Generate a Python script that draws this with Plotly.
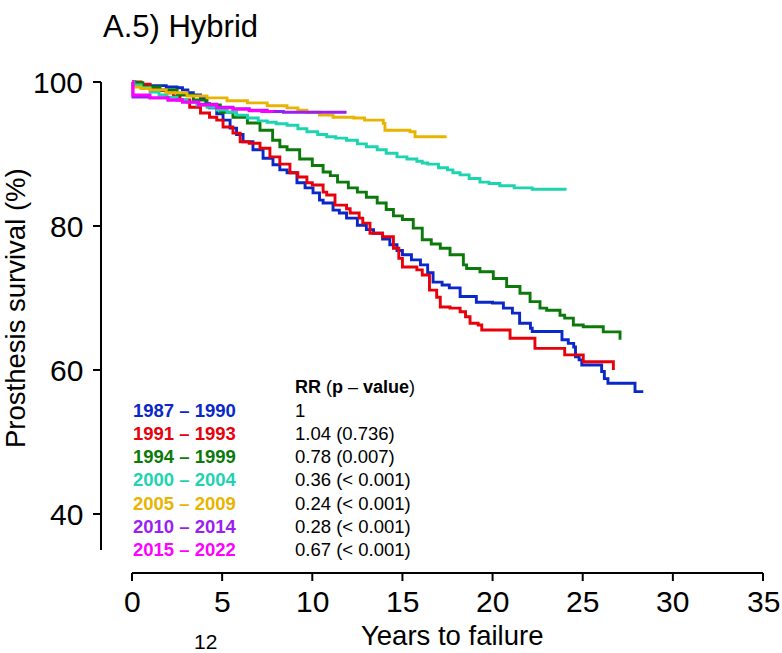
import plotly.graph_objects as go

# ---------------- data ----------------
cohorts = ["1987 – 1990", "1991 – 1993", "1994 – 1999", "2000 – 2004",
           "2005 – 2009", "2010 – 2014", "2015 – 2022"]
rr_text = ["1", "1.04 (0.736)", "0.78 (0.007)", "0.36 (< 0.001)",
           "0.24 (< 0.001)", "0.28 (< 0.001)", "0.67 (< 0.001)"]
colors = ["#0A27C8", "#E8000B", "#0B7A0B", "#1DD3B0", "#E8B400", "#9B1EF2", "#FF00FF"]

t_1987 = [0, 0.1, 1.0, 1.9, 2.5, 2.8, 3.1, 3.4, 3.8, 4.1, 4.3, 4.7, 5.05, 5.44, 5.8, 6.16, 6.71,
          7.27, 7.82, 8.2, 8.6, 9.15, 9.6, 10.04, 10.4, 10.6, 11.15, 11.5, 11.9, 12.5, 13.0,
          13.4, 13.9, 14.3, 14.7, 15.0, 15.5, 16.0, 16.4, 16.7, 17.2, 17.6, 18.2, 19.1, 20.0,
          20.6, 21.1, 21.5, 22.1, 22.2, 23.85, 24.2, 24.5, 24.6, 24.8, 24.95, 26.05, 26.2,
          26.4, 27.9, 28.36]
s_1987 = [100, 99.6, 99.5, 99.3, 99.2, 98.9, 98.5, 98.2, 97.8, 97.0, 96.4, 95.6, 94.7, 93.6,
          92.7, 91.7, 90.6, 89.4, 88.5, 87.8, 87.4, 86.0, 85.3, 84.6, 83.6, 83.2, 82.2, 81.8,
          81.1, 80.1, 79.5, 79.0, 78.2, 77.4, 76.6, 76.0, 75.3, 74.6, 73.5, 72.2, 71.8, 71.4,
          70.2, 69.4, 69.3, 68.6, 67.9, 66.5, 65.8, 65.35, 64.2, 63.7, 63.2, 61.85, 61.4,
          60.7, 59.8, 58.8, 58.15, 57.0, 57.0]

t_1991 = [0, 0.5, 1.0, 1.5, 1.9, 2.3, 2.66, 3.2, 3.8, 4.3, 4.7, 5.05, 5.6, 6.0, 6.5, 7.1, 7.65,
          8.2, 8.76, 9.2, 9.7, 10.0, 10.6, 10.8, 11.26, 11.9, 12.1, 12.6, 12.8, 13.2, 13.9,
          14.5, 14.8, 15.0, 15.8, 16.1, 16.5, 16.9, 17.1, 17.64, 18.2, 18.5, 18.75, 19.2,
          19.4, 20.97, 22.35, 24.0, 25.03, 26.7]
s_1991 = [100, 99.7, 99.2, 98.8, 98.5, 98.0, 97.5, 96.5, 95.7, 95.1, 94.7, 93.75, 92.9, 91.7,
          91.5, 90.8, 89.6, 88.6, 87.4, 86.8, 86.0, 85.7, 84.7, 84.3, 82.9, 82.4, 81.8, 81.1,
          80.4, 79.0, 78.5, 76.9, 75.5, 74.3, 73.9, 73.2, 71.1, 70.1, 68.75, 68.6, 68.1,
          67.4, 66.5, 66.25, 65.55, 64.4, 63.0, 62.1, 61.15, 60.0]

t_1994 = [0, 0.17, 0.6, 1.55, 2.5, 3.4, 4.16, 4.9, 5.6, 6.4, 7.1, 7.8, 8.2, 8.6, 9.3, 10.0,
          10.6, 11.0, 11.4, 12.0, 12.5, 13.0, 13.6, 14.1, 14.5, 15.0, 15.6, 16.1, 16.6, 17.1,
          17.64, 18.38, 18.56, 19.3, 20.04, 20.78, 21.52, 22.08, 22.63, 23.0, 23.74, 24.0,
          24.48, 25.03, 26.14, 27.07]
s_1994 = [100, 99.9, 99.3, 98.9, 98.2, 97.5, 96.8, 95.8, 95.1, 94.3, 93.3, 91.9, 91.0, 90.6,
          89.3, 88.4, 87.5, 87.0, 86.1, 85.3, 84.7, 84.0, 83.2, 82.3, 81.4, 80.9, 79.7, 78.1,
          77.5, 76.9, 76.0, 74.6, 74.1, 73.65, 72.7, 71.6, 70.65, 69.5, 68.6, 68.3, 67.6,
          67.2, 66.25, 66.0, 65.3, 64.2]

t_2000 = [0, 0.1, 0.5, 1.0, 1.5, 1.94, 2.5, 3.05, 3.6, 4.16, 4.7, 5.27, 5.8, 6.4, 7.0, 7.5,
          8.0, 8.6, 9.2, 9.7, 10.3, 10.8, 11.3, 11.9, 12.5, 13.0, 13.6, 14.1, 14.7, 15.25,
          15.8, 16.1, 16.4, 17.0, 17.5, 17.8, 18.2, 18.7, 19.3, 19.8, 20.4, 21.2, 22.2, 24.1]
s_2000 = [100, 99.6, 99.2, 98.6, 98.2, 97.9, 97.5, 97.2, 96.8, 96.5, 96.1, 95.8, 95.4, 95.0,
          94.6, 94.4, 94.2, 94.0, 93.5, 93.1, 92.7, 92.4, 92.2, 91.9, 91.4, 91.0, 90.6, 90.1,
          89.6, 89.3, 89.0, 88.75, 88.6, 88.1, 87.8, 87.4, 87.1, 86.6, 86.1, 85.9, 85.6,
          85.3, 85.1, 85.1]

t_2005 = [0, 0.05, 0.5, 1.0, 1.9, 3.05, 4.16, 5.27, 6.4, 7.5, 8.6, 9.2, 9.7, 10.4, 11.15,
          12.3, 12.9, 13.94, 14.03, 15.42, 15.7, 17.45]
s_2005 = [100, 99.3, 99.1, 98.9, 98.5, 98.05, 97.8, 97.4, 97.1, 96.7, 96.4, 96.1, 95.8, 95.4,
          95.1, 95.0, 94.7, 94.26, 93.3, 93.1, 92.4, 92.4]

t_2010 = [0, 0.05, 1.0, 2.0, 2.8, 3.7, 4.7, 5.6, 6.5, 7.5, 8.4, 11.9]
s_2010 = [100, 97.9, 97.8, 97.5, 97.2, 96.9, 96.5, 96.3, 96.1, 95.9, 95.8, 95.8]

t_2015 = [0, 0.05, 1.0, 2.0, 2.8, 3.7, 4.7, 5.6, 6.5, 7.2, 7.8]
s_2015 = [100, 98.2, 97.8, 97.5, 97.2, 96.8, 96.4, 96.2, 96.0, 95.9, 95.8]

times = [t_1987, t_1991, t_1994, t_2000, t_2005, t_2010, t_2015]
survs = [s_1987, s_1991, s_1994, s_2000, s_2005, s_2010, s_2015]

x_ticks = [0, 5, 10, 15, 20, 25, 30, 35]
y_ticks = [40, 60, 80, 100]

# ---------------- layout geometry ----------------
W, H = 782, 653
XS = 631 / 35.0      # px per year
YS = 144 / 20.0      # px per % point
def xv(px):
    return (px - 132) / XS
def yv(py):
    return 100 - (py - 82) / YS

FONT = "Liberation Sans, Arial, Helvetica, sans-serif"

fig = go.Figure()
for name, t, s, c in zip(cohorts, times, survs, colors):
    fig.add_trace(go.Scatter(x=t, y=s, mode="lines", name=name,
                             line=dict(color=c, width=2.9, shape="hv"),
                             showlegend=False, hoverinfo="skip"))

shapes = []
ann = []
# x axis
x_line_y = yv(573)
shapes.append(dict(type="line", xref="x", yref="y", x0=x_ticks[0], x1=x_ticks[-1],
                   y0=x_line_y, y1=x_line_y, line=dict(color="black", width=2)))
for t in x_ticks:
    shapes.append(dict(type="line", xref="x", yref="y", x0=t, x1=t,
                       y0=x_line_y, y1=yv(581), line=dict(color="black", width=2)))
    ann.append(dict(x=t, y=yv(601), xref="x", yref="y", text=str(t), showarrow=False,
                    xanchor="center", yanchor="middle", borderpad=0,
                    font=dict(family=FONT, size=30, color="black")))
# y axis
y_line_x = xv(101)
shapes.append(dict(type="line", xref="x", yref="y", x0=y_line_x, x1=y_line_x,
                   y0=35, y1=100, line=dict(color="black", width=2)))
for v in y_ticks:
    shapes.append(dict(type="line", xref="x", yref="y", x0=y_line_x, x1=xv(93),
                       y0=v, y1=v, line=dict(color="black", width=2)))
    ann.append(dict(x=xv(84), y=v, xref="x", yref="y", text=str(v), showarrow=False,
                    xanchor="right", yanchor="middle", borderpad=0,
                    font=dict(family=FONT, size=30, color="black")))

# titles
ann.append(dict(x=xv(102), y=yv(26), xref="x", yref="y", text="A.5) Hybrid", showarrow=False,
                xanchor="left", yanchor="middle", borderpad=0,
                font=dict(family=FONT, size=31, color="black")))
ann.append(dict(x=xv(452), y=yv(635), xref="x", yref="y", text="Years to failure",
                showarrow=False, xanchor="center", yanchor="middle", borderpad=0,
                font=dict(family=FONT, size=27.5, color="black")))
ann.append(dict(x=xv(15), y=yv(308), xref="x", yref="y", text="Prosthesis survival (%)",
                showarrow=False, textangle=-90, xanchor="center", yanchor="middle",
                borderpad=0, font=dict(family=FONT, size=27.5, color="black")))
ann.append(dict(x=xv(205), y=yv(641), xref="x", yref="y", text="12", showarrow=False,
                xanchor="center", yanchor="middle", borderpad=0,
                font=dict(family=FONT, size=21, color="black")))

# legend table
ann.append(dict(x=xv(294), y=yv(387), xref="x", yref="y",
                text="<b>RR</b> (<b>p</b> – <b>value</b>)", showarrow=False,
                xanchor="left", yanchor="middle", borderpad=0,
                font=dict(family=FONT, size=18, color="black")))
for i, (name, rr, c) in enumerate(zip(cohorts, rr_text, colors)):
    py = 410 + i * 23.33
    ann.append(dict(x=xv(132), y=yv(py), xref="x", yref="y", text="<b>" + name + "</b>",
                    showarrow=False, xanchor="left", yanchor="middle", borderpad=0,
                    font=dict(family=FONT, size=18.5, color=c)))
    ann.append(dict(x=xv(294), y=yv(py), xref="x", yref="y", text=rr,
                    showarrow=False, xanchor="left", yanchor="middle", borderpad=0,
                    font=dict(family=FONT, size=18.5, color="black")))

fig.update_layout(
    width=W, height=H, autosize=False,
    margin=dict(l=0, r=0, t=0, b=0, pad=0),
    paper_bgcolor="white", plot_bgcolor="white",
    xaxis=dict(range=[xv(0), xv(W)], visible=False, fixedrange=True),
    yaxis=dict(range=[yv(H), yv(0)], visible=False, fixedrange=True),
    shapes=shapes, annotations=ann, showlegend=False,
)

fig.write_html("out.html")
